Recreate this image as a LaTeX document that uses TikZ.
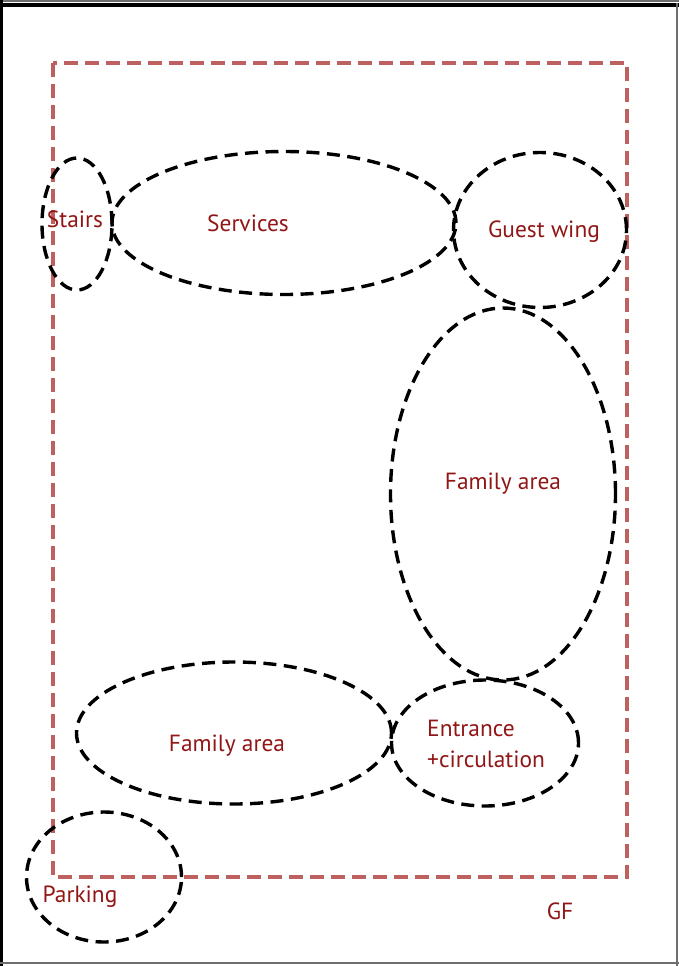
\documentclass[tikz,border=0pt]{standalone}
\usepackage{fontspec}
\setmainfont{PT Sans}
\usetikzlibrary{shapes.geometric}
\definecolor{zonered}{RGB}{188,96,96}
\definecolor{labelred}{RGB}{145,22,22}
\definecolor{framegray}{RGB}{110,110,110}
\tikzset{
  zone/.style={ellipse, draw=black, line width=3.4bp, dash pattern=on 13bp off 7.5bp, inner sep=0pt},
  lbl/.style={text=labelred, font=\fontsize{23.5}{31}\selectfont, inner sep=0pt, anchor=base},
}
\begin{document}
\begin{tikzpicture}[x=1bp,y=-1bp]
\useasboundingbox (0,0) rectangle (679,966);
\fill[white] (0,0) rectangle (679,966);
% frame
\draw[framegray, line width=1.5bp] (0,0.75) -- (679,0.75);
\draw[black, line width=4bp] (0,5) -- (679,5);
\draw[black, line width=3bp] (1.5,0) -- (1.5,966);
\draw[framegray, line width=1.5bp] (677,3) -- (677,966);
\draw[framegray, line width=1.5bp] (0,963) -- (679,963);
% ground floor outline
\draw[zonered, line width=3.3bp, dash pattern=on 14bp off 7bp] (53,63) rectangle (627,877);
% zones
\node[zone, minimum width=70bp, minimum height=132bp] (stairs) at (77,224) {};
\node[zone, minimum width=344bp, minimum height=143bp] (services) at (284,223) {};
\node[zone, minimum width=173bp, minimum height=155bp] (guest) at (540,230) {};
\node[zone, minimum width=225bp, minimum height=372bp] (famR) at (503,494) {};
\node[zone, minimum width=315bp, minimum height=142bp] (famB) at (234,733) {};
\node[zone, minimum width=187bp, minimum height=126bp] (entr) at (485,743) {};
\node[zone, minimum width=155bp, minimum height=130bp] (park) at (104,877) {};
% labels
\node[lbl] (tStairs) at (75,227) {Stairs};
\node[lbl] (tServices) at (248,231) {Services};
\node[lbl] (tGuest) at (544,237) {Guest wing};
\node[lbl] (tFamR) at (503,489) {Family area};
\node[lbl] (tFamB) at (227,751) {Family area};
\node[lbl, anchor=base west] (tEntr1) at (427,736) {Entrance};
\node[lbl, anchor=base west] (tEntr2) at (427,767) {+circulation};
\node[lbl] (tPark) at (80,902) {Parking};
\node[lbl] (tGF) at (560,919) {GF};
\end{tikzpicture}
\end{document}
